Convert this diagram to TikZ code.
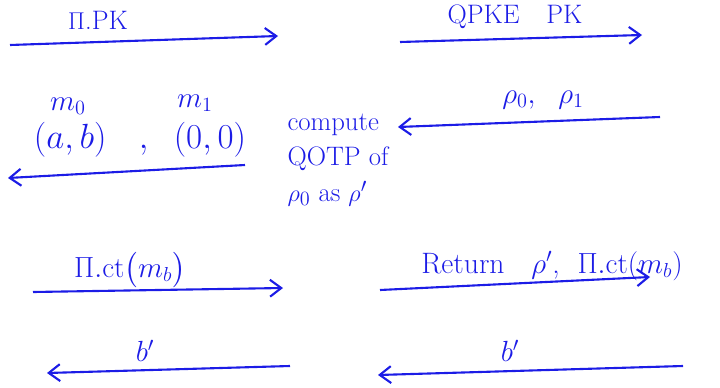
\documentclass[tikz,border=0pt]{standalone}
\usepackage{amsmath,amssymb}
\usepackage{xcolor}
\usepackage{tikz}
\usetikzlibrary{arrows.meta,positioning}
\definecolor{pen}{RGB}{28,28,230}
\tikzset{
  msg/.style={-{Straight Barb[length=8pt,width=12pt]},pen,line width=1.5pt},
  lbl/.style={pen,font=\fontsize{21}{23}\selectfont,inner sep=1pt},
  nota/.style={pen,font=\fontsize{19}{25}\selectfont,align=left,inner sep=1pt}
}

\begin{document}
\begin{tikzpicture}[x=0.025cm,y=-0.025cm]
\useasboundingbox (0,0) rectangle (720,387);
% round 1: public keys
\coordinate (pkA) at (10,45); \coordinate (pkB) at (278,36);
\coordinate (qpA) at (400,42); \coordinate (qpB) at (642,35);
\draw[msg] (pkA) -- (pkB);
\draw[msg] (qpA) -- (qpB);
\node[lbl,font=\fontsize{19}{21}\selectfont] (pk) at (98,20) {$\Pi$.PK};
\node[lbl,font=\fontsize{19}{21}\selectfont] (qpk) at (515,17) {QPKE\quad PK};
% round 2: challenge messages
\coordinate (rhoA) at (660,117); \coordinate (rhoB) at (398,127);
\coordinate (mA) at (245,165); \coordinate (mB) at (8,178);
\draw[msg] (rhoA) -- (rhoB);
\draw[msg] (mA) -- (mB);
\node[lbl] (rho) at (543,100) {$\rho_0,\ \ \rho_1$};
\node[lbl,font=\fontsize{23}{25}\selectfont] (msgs) at (140,140) {$(a,b)\quad,\ \ (0,0)$};
\node[lbl] (m0) at (68,106) {$m_0$};
\node[lbl] (m1) at (195,103) {$m_1$};
\node[nota] (qotp) at (338,160) {compute\\QOTP of\\$\rho_0$ as $\rho'$};
% round 3: ciphertexts
\coordinate (ctA) at (33,292); \coordinate (ctB) at (283,288);
\coordinate (retA) at (380,290); \coordinate (retB) at (650,277);
\draw[msg] (ctA) -- (ctB);
\draw[msg] (retA) -- (retB);
\node[lbl] (ct) at (130,270) {$\Pi.\mathrm{ct}\bigl(m_b\bigr)$};
\node[lbl] (ret) at (552,266) {Return\ \ \ $\rho'$,\ \ $\Pi.\mathrm{ct}(m_b)$};
% round 4: guesses
\coordinate (gA) at (290,366); \coordinate (gB) at (47,373);
\coordinate (qgA) at (683,366); \coordinate (qgB) at (378,375);
\draw[msg] (gA) -- (gB);
\draw[msg] (qgA) -- (qgB);
\node[lbl] (g) at (145,351) {$b'$};
\node[lbl] (qg) at (510,351) {$b'$};
\end{tikzpicture}
\end{document}
